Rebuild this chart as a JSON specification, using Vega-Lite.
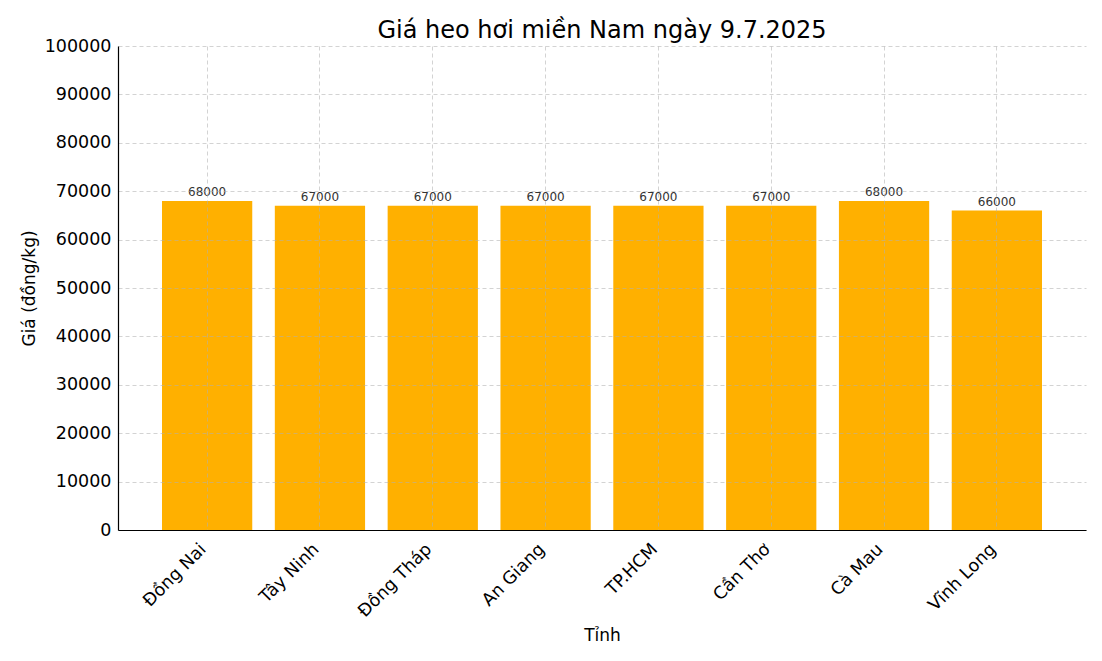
{
  "$schema": "https://vega.github.io/schema/vega-lite/v6.json",
  "width": 968,
  "height": 484,
  "autosize": {"type": "none"},
  "padding": {"left": 118, "top": 46, "right": 16, "bottom": 131},
  "background": "white",
  "config": {
    "font": "DejaVu Sans",
    "view": {"stroke": null},
    "axis": {
      "labelFont": "DejaVu Sans",
      "titleFont": "DejaVu Sans",
      "labelColor": "#000000",
      "titleColor": "#000000",
      "labelFontSize": 17.5,
      "titleFontSize": 17,
      "titleFontWeight": "normal",
      "domainColor": "#000000",
      "domainWidth": 1.2,
      "ticks": false,
      "gridColor": "#b0b0b0",
      "gridDash": [4, 3],
      "gridWidth": 0.8,
      "gridOpacity": 0.7
    }
  },
  "title": {
    "text": "Giá heo hơi miền Nam ngày 9.7.2025",
    "font": "DejaVu Sans",
    "fontSize": 24,
    "fontWeight": "normal",
    "color": "#000000",
    "anchor": "middle",
    "offset": -6
  },
  "data": {
    "values": [
      {"tinh": "Đồng Nai", "gia": 68000},
      {"tinh": "Tây Ninh", "gia": 67000},
      {"tinh": "Đồng Tháp", "gia": 67000},
      {"tinh": "An Giang", "gia": 67000},
      {"tinh": "TP.HCM", "gia": 67000},
      {"tinh": "Cần Thơ", "gia": 67000},
      {"tinh": "Cà Mau", "gia": 68000},
      {"tinh": "Vĩnh Long", "gia": 66000}
    ]
  },
  "encoding": {
    "x": {
      "field": "tinh",
      "type": "nominal",
      "sort": null,
      "title": "Tỉnh",
      "scale": {"paddingInner": 0.2, "paddingOuter": 0.39},
      "axis": {
        "labelAngle": -45,
        "labelAlign": "right",
        "labelBaseline": "top",
        "labelPadding": 10,
        "labelOffset": -10,
        "titlePadding": 7,
        "grid": true,
        "zindex": 1,
        "bandPosition": 0.5
      }
    },
    "y": {
      "field": "gia",
      "type": "quantitative",
      "title": "Giá (đồng/kg)",
      "scale": {"domain": [0, 100000], "nice": false},
      "axis": {
        "values": [0, 10000, 20000, 30000, 40000, 50000, 60000, 70000, 80000, 90000, 100000],
        "format": "d",
        "labelPadding": 7,
        "titlePadding": 6,
        "grid": true,
        "zindex": 1
      }
    }
  },
  "layer": [
    {
      "mark": {"type": "bar", "color": "#ffb000"}
    },
    {
      "mark": {
        "type": "text",
        "baseline": "bottom",
        "dy": -2,
        "fontSize": 12,
        "color": "#333333",
        "font": "DejaVu Sans"
      },
      "encoding": {
        "text": {"field": "gia", "type": "quantitative", "format": "d"}
      }
    }
  ]
}
